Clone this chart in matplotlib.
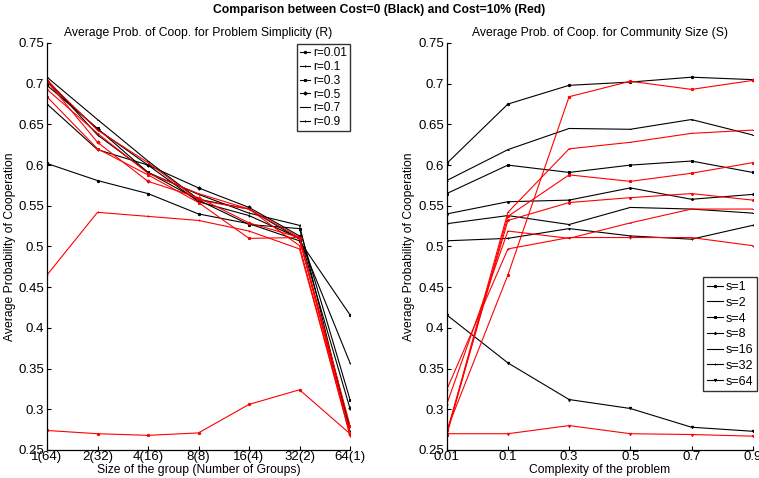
import matplotlib
matplotlib.use("Agg")
import matplotlib.pyplot as plt

plt.rcParams['font.family'] = ['Liberation Sans', 'DejaVu Sans']

# ---- data ----
group_ticks = ['1(64)', '2(32)', '4(16)', '8(8)', '16(4)', '32(2)', '64(1)']
complexity_ticks = ['0.01', '0.1', '0.3', '0.5', '0.7', '0.9']
r_labels = ['r=0.01', 'r=0.1', 'r=0.3', 'r=0.5', 'r=0.7', 'r=0.9']
s_labels = ['s=1', 's=2', 's=4', 's=8', 's=16', 's=32', 's=64']
y_ticks = [0.25, 0.3, 0.35, 0.4, 0.45, 0.5, 0.55, 0.6, 0.65, 0.7, 0.75]
y_tick_labels = ['0.25', '0.3', '0.35', '0.4', '0.45', '0.5', '0.55', '0.6', '0.65', '0.7', '0.75']

# Cost = 0 (black): one list per community size s, values over r = 0.01..0.9
black_s1 = [0.602, 0.675, 0.698, 0.702, 0.708, 0.705]
black_s2 = [0.581, 0.619, 0.645, 0.644, 0.656, 0.637]
black_s4 = [0.565, 0.600, 0.591, 0.600, 0.605, 0.591]
black_s8 = [0.540, 0.555, 0.557, 0.572, 0.558, 0.564]
black_s16 = [0.528, 0.538, 0.527, 0.548, 0.546, 0.541]
black_s32 = [0.507, 0.510, 0.522, 0.513, 0.509, 0.526]
black_s64 = [0.416, 0.357, 0.312, 0.301, 0.278, 0.273]

# Cost = 10% (red)
red_s1 = [0.274, 0.465, 0.684, 0.703, 0.693, 0.704]
red_s2 = [0.270, 0.542, 0.620, 0.628, 0.639, 0.643]
red_s4 = [0.268, 0.537, 0.588, 0.580, 0.590, 0.603]
red_s8 = [0.271, 0.532, 0.554, 0.560, 0.565, 0.557]
red_s16 = [0.306, 0.519, 0.510, 0.529, 0.546, 0.546]
red_s32 = [0.324, 0.497, 0.511, 0.511, 0.511, 0.501]
red_s64 = [0.270, 0.270, 0.280, 0.270, 0.269, 0.267]

black = [black_s1, black_s2, black_s4, black_s8, black_s16, black_s32, black_s64]
red = [red_s1, red_s2, red_s4, red_s8, red_s16, red_s32, red_s64]

r_markers = ['o', '+', 's', 'D', '_', '|']
s_markers = ['o', '_', 's', '*', '_', '+', 'v']

W, H = 759, 478
fig = plt.figure(figsize=(W / 100, H / 100), dpi=100)

axL = fig.add_axes([47 / W, 1 - 450 / H, (350 - 47) / W, (450 - 43) / H])
axR = fig.add_axes([446.7 / W, 1 - 450 / H, (752.7 - 446.7) / W, (450 - 43) / H])

lw = 0.8
ms = 1.7
mew = 0.7

# Left: series per r, x = group size
xl = list(range(len(group_ticks)))
handlesL = []
for i, lab in enumerate(r_labels):
    yb = [row[i] for row in black]
    h, = axL.plot(xl, yb, color='black', lw=lw, marker=r_markers[i], ms=ms,
                  mew=mew, label=lab)
    handlesL.append(h)
for i in range(len(r_labels)):
    yr = [row[i] for row in red]
    axL.plot(xl, yr, color='red', lw=lw, marker=r_markers[i], ms=ms, mew=mew)

# Right: series per s, x = complexity
xr = list(range(len(complexity_ticks)))
handlesR = []
for k, lab in enumerate(s_labels):
    h, = axR.plot(xr, black[k], color='black', lw=lw, marker=s_markers[k], ms=ms,
                  mew=mew, label=lab)
    handlesR.append(h)
for k in range(len(s_labels)):
    axR.plot(xr, red[k], color='red', lw=lw, marker=s_markers[k], ms=ms, mew=mew)

fs = 8.7
for ax, ticks, n in ((axL, group_ticks, 7), (axR, complexity_ticks, 6)):
    ax.set_xlim(0, n - 1)
    ax.set_ylim(0.25, 0.75)
    ax.set_xticks(range(n))
    ax.set_xticklabels(ticks)
    ax.set_yticks(y_ticks)
    ax.set_yticklabels(y_tick_labels)
    ax.tick_params(direction='in', length=3, width=0.8, labelsize=9.5, pad=2)
    ax.tick_params(axis='x', pad=1)
    ax.spines['top'].set_visible(False)
    ax.spines['right'].set_visible(False)
    ax.spines['left'].set_linewidth(0.9)
    ax.spines['bottom'].set_linewidth(0.9)
    ax.set_ylabel('Average Probability of Cooperation', fontsize=fs, labelpad=2)

axL.set_xlabel('Size of the group (Number of Groups)', fontsize=fs, labelpad=0.5)
axR.set_xlabel('Complexity of the problem', fontsize=fs, labelpad=0.5)
axL.set_title('Average Prob. of Coop. for Problem Simplicity (R)', fontsize=fs, pad=5)
axR.set_title('Average Prob. of Coop. for Community Size (S)', fontsize=fs, pad=5)

fig.text(0.5, 1 - 10 / H, 'Comparison between Cost=0 (Black) and Cost=10% (Red)',
         ha='center', va='center', fontsize=fs, fontweight='bold')

base = dict(frameon=True, fancybox=False, borderaxespad=0, loc='upper left',
            bbox_transform=fig.transFigure)
legL = axL.legend(handles=handlesL, bbox_to_anchor=(296.7 / W, 1 - 44.3 / H),
                  fontsize=8.6, borderpad=0.25, handlelength=0.9, handletextpad=0.2,
                  labelspacing=0.15, **base)
legR = axR.legend(handles=handlesR, bbox_to_anchor=(703 / W, 1 - 277.3 / H),
                  fontsize=9, borderpad=0.3, handlelength=1.3, handletextpad=0.2,
                  labelspacing=0.3, **base)
for leg in (legL, legR):
    leg.get_frame().set_edgecolor('black')
    leg.get_frame().set_linewidth(1.0)

fig.savefig('out.png', dpi=100)
